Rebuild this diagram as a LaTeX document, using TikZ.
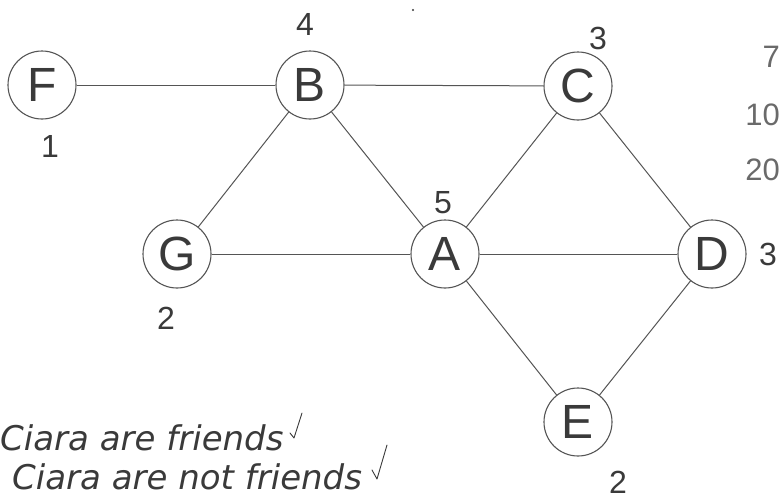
\documentclass[tikz,border=0pt]{standalone}
\usepackage{fontspec}
\newfontfamily\notefont{DejaVu Sans}
\newfontfamily\letterfont{Liberation Sans}
\newfontfamily\digitfont{Liberation Sans}
\definecolor{ink}{HTML}{3A3A3A}
\definecolor{pencil}{HTML}{555555}
\definecolor{faint}{HTML}{6A6A6A}
\tikzset{
  person/.style={circle, draw=pencil, line width=1.1pt, minimum size=68pt, inner sep=0pt,
    text=ink, font=\letterfont\fontsize{48}{48}\selectfont},
  link/.style={draw=pencil, line width=1pt},
  degree/.style={text=ink, inner sep=0pt, font=\letterfont\fontsize{32}{32}\selectfont},
  sidenum/.style={text=faint, inner sep=0pt, anchor=east, font=\digitfont\fontsize{31}{31}\selectfont},
  statement/.style={text=ink, inner sep=0pt, anchor=base west, font=\notefont\itshape\fontsize{34}{40}\selectfont},
  tick/.style={draw=ink, line width=0.9pt, line cap=round, line join=round}
}
\begin{document}
\begin{tikzpicture}[x=1pt, y=-1pt]
  \useasboundingbox (0,0) rectangle (782,499);
  \clip (0,0) rectangle (782,499);
  \fill[white] (0,0) rectangle (782,499);

  % friendship graph
  \node[person] (F) at (42,85) {F};
  \node[person] (B) at (310,85) {B};
  \node[person] (C) at (578,86) {C};
  \node[person] (G) at (177,254) {G};
  \node[person] (A) at (445,254) {A};
  \node[person] (D) at (712,254) {D};
  \node[person] (E) at (578,422) {E};

  \draw[link] (F) -- (B);
  \draw[link] (B) -- (C);
  \draw[link] (B) -- (G);
  \draw[link] (B) -- (A);
  \draw[link] (C) -- (A);
  \draw[link] (C) -- (D);
  \draw[link] (G) -- (A);
  \draw[link] (A) -- (D);
  \draw[link] (A) -- (E);
  \draw[link] (D) -- (E);

  % degrees written beside each person
  \node[degree] (dB) at (305,24) {4};
  \node[degree] (dF) at (50,146) {1};
  \node[degree] (dC) at (598,38) {3};
  \node[degree] (dA) at (443,203) {5};
  \node[degree] (dD) at (768,254) {3};
  \node[degree] (dG) at (166,318) {2};
  \node[degree] (dE) at (618,482) {2};

  % numbers down the right margin
  \node[sidenum] (n7) at (780,57) {7};
  \node[sidenum] (n10) at (780,115) {10};
  \node[sidenum] (n20) at (780,170) {20};

  % stray mark on the sheet
  \fill[ink] (413,10) circle (1.2pt);

  % statements at the bottom
  \node[statement] (s1) at (0,450) {Ciara are friends};
  \node[statement] (s2) at (12,489) {Ciara are not friends};
  \draw[tick] (290,433) -- (294,438) -- (302,413);
  \draw[tick] (372,470) -- (377,479) -- (387,445);
\end{tikzpicture}
\end{document}
